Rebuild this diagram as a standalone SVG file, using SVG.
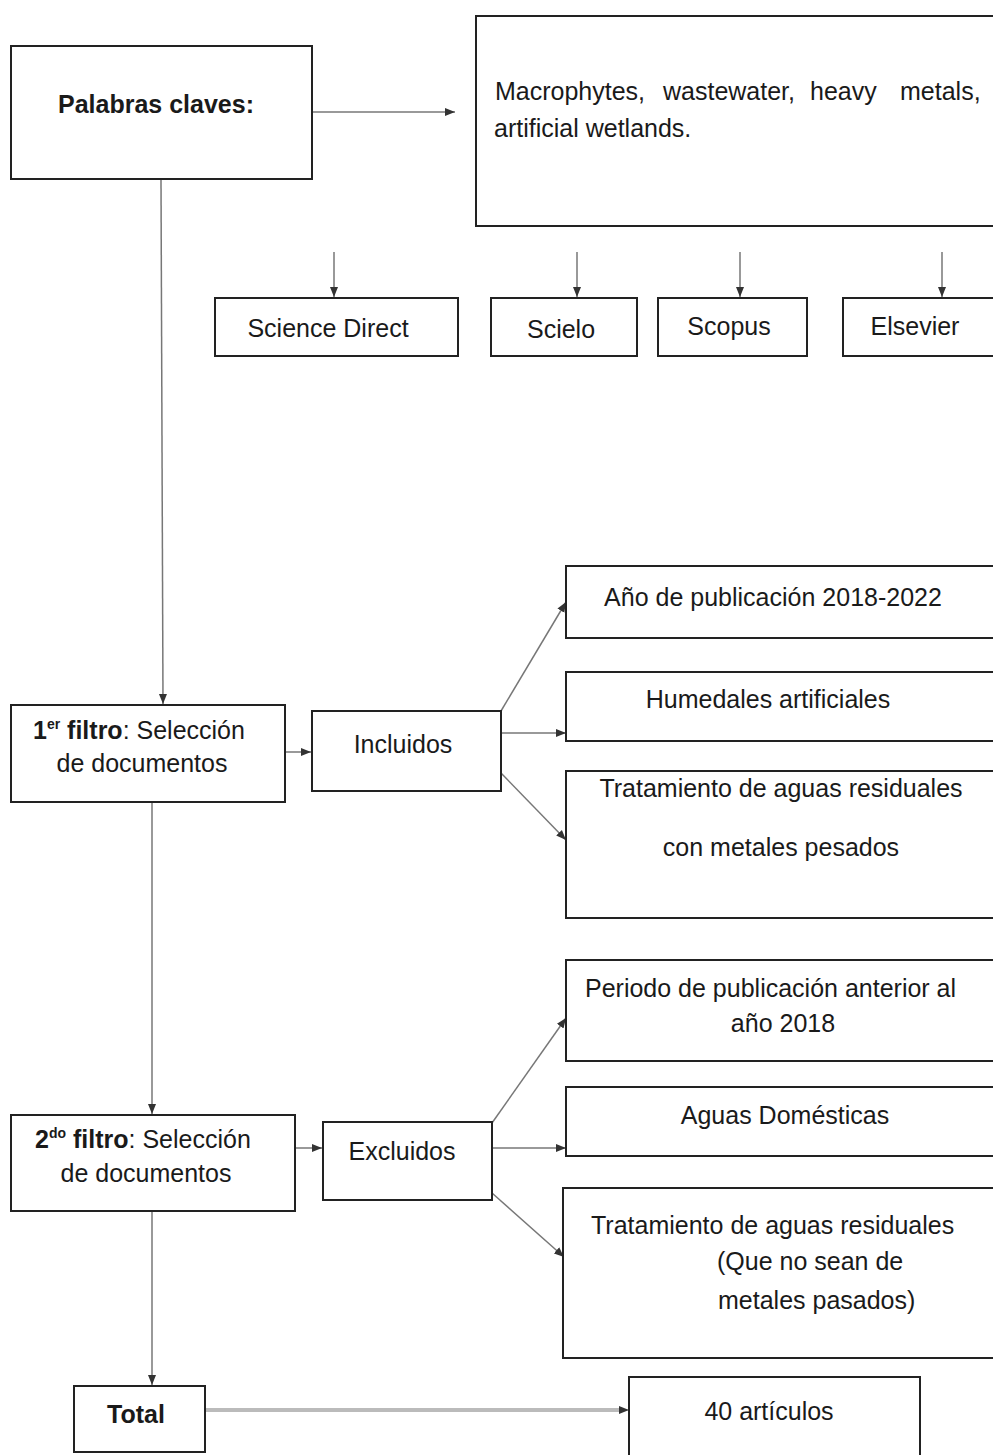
<svg xmlns="http://www.w3.org/2000/svg" width="993" height="1455" viewBox="0 0 993 1455">
<style>
.box{fill:#fff;stroke:#222;stroke-width:2}
.t{font-family:"Liberation Sans",Arial,sans-serif;font-size:25px;fill:#1a1a1a}
.c{text-anchor:middle}
.b{font-weight:bold}
.ln{fill:none;stroke:#777;stroke-width:1.5}
</style>
<defs>
<marker id="ah" viewBox="0 0 10 10" refX="10" refY="5" markerWidth="10" markerHeight="10" markerUnits="userSpaceOnUse" orient="auto">
<path d="M0,1 L10,5 L0,9 Z" fill="#333"/>
</marker>
</defs>
<rect width="993" height="1455" fill="#fff"/>
<g id="connectors">
<line class="ln" x1="312" y1="112" x2="455" y2="112" marker-end="url(#ah)"/>
<line class="ln" x1="334" y1="252" x2="334" y2="297" marker-end="url(#ah)"/>
<line class="ln" x1="577" y1="252" x2="577" y2="297" marker-end="url(#ah)"/>
<line class="ln" x1="740" y1="252" x2="740" y2="297" marker-end="url(#ah)"/>
<line class="ln" x1="942" y1="252" x2="942" y2="297" marker-end="url(#ah)"/>
<line class="ln" x1="161" y1="180" x2="163" y2="704" marker-end="url(#ah)"/>
<line class="ln" x1="285" y1="752" x2="311" y2="752" marker-end="url(#ah)"/>
<line class="ln" x1="501" y1="711" x2="566" y2="602" marker-end="url(#ah)"/>
<line class="ln" x1="501" y1="733" x2="566" y2="733" marker-end="url(#ah)"/>
<line class="ln" x1="501" y1="773" x2="566" y2="840" marker-end="url(#ah)"/>
<line class="ln" x1="152" y1="802" x2="152" y2="1114" marker-end="url(#ah)"/>
<line class="ln" x1="295" y1="1148" x2="322" y2="1148" marker-end="url(#ah)"/>
<line class="ln" x1="492" y1="1123" x2="566" y2="1018" marker-end="url(#ah)"/>
<line class="ln" x1="492" y1="1148" x2="566" y2="1148" marker-end="url(#ah)"/>
<line class="ln" x1="492" y1="1193" x2="564" y2="1257" marker-end="url(#ah)"/>
<line class="ln" x1="152" y1="1211" x2="152" y2="1385" marker-end="url(#ah)"/>
<line x1="206" y1="1410" x2="620" y2="1410" stroke="#bbb" stroke-width="4"/>
<line x1="618" y1="1410" x2="629" y2="1410" stroke="#bbb" stroke-width="1" marker-end="url(#ah)"/>
</g>
<g id="palabras">
<rect class="box" x="11" y="46" width="301" height="133"/>
<text class="t b c" x="156" y="113">Palabras claves:</text>
</g>
<g id="keywords">
<rect class="box" x="476" y="16" width="530" height="210"/>
<text class="t" y="100"><tspan x="495">Macrophytes,</tspan><tspan x="663">wastewater,</tspan><tspan x="810">heavy</tspan><tspan x="900">metals,</tspan></text>
<text class="t" x="494" y="137">artificial wetlands.</text>
</g>
<g id="sciencedirect">
<rect class="box" x="215" y="298" width="243" height="58"/>
<text class="t c" x="328" y="337">Science Direct</text>
</g>
<g id="scielo">
<rect class="box" x="491" y="298" width="146" height="58"/>
<text class="t c" x="561" y="338">Scielo</text>
</g>
<g id="scopus">
<rect class="box" x="658" y="298" width="149" height="58"/>
<text class="t c" x="729" y="335">Scopus</text>
</g>
<g id="elsevier">
<rect class="box" x="843" y="298" width="160" height="58"/>
<text class="t c" x="915" y="335">Elsevier</text>
</g>
<g id="filtro1">
<rect class="box" x="11" y="705" width="274" height="97"/>
<text class="t" x="33" y="739"><tspan class="b">1</tspan><tspan class="b" font-size="14" dy="-10">er</tspan><tspan class="b" dy="10"> filtro</tspan><tspan>: Selección</tspan></text>
<text class="t c" x="142" y="772">de documentos</text>
</g>
<g id="incluidos">
<rect class="box" x="312" y="711" width="189" height="80"/>
<text class="t c" x="403" y="753">Incluidos</text>
</g>
<g id="anio">
<rect class="box" x="566" y="566" width="440" height="72"/>
<text class="t c" x="773" y="606">Año de publicación 2018-2022</text>
</g>
<g id="humedales">
<rect class="box" x="566" y="672" width="440" height="69"/>
<text class="t c" x="768" y="708">Humedales artificiales</text>
</g>
<g id="tratamiento1">
<rect class="box" x="566" y="771" width="440" height="147"/>
<text class="t c" x="781" y="797">Tratamiento de aguas residuales</text>
<text class="t c" x="781" y="856">con metales pesados</text>
</g>
<g id="filtro2">
<rect class="box" x="11" y="1115" width="284" height="96"/>
<text class="t" x="35" y="1148"><tspan class="b">2</tspan><tspan class="b" font-size="14" dy="-10">do</tspan><tspan class="b" dy="10"> filtro</tspan><tspan>: Selección</tspan></text>
<text class="t c" x="146" y="1182">de documentos</text>
</g>
<g id="excluidos">
<rect class="box" x="323" y="1122" width="169" height="78"/>
<text class="t c" x="402" y="1160">Excluidos</text>
</g>
<g id="periodo">
<rect class="box" x="566" y="960" width="440" height="101"/>
<text class="t" x="585" y="997">Periodo de publicación anterior al</text>
<text class="t c" x="783" y="1032">año 2018</text>
</g>
<g id="aguas">
<rect class="box" x="566" y="1087" width="440" height="69"/>
<text class="t c" x="785" y="1124">Aguas Domésticas</text>
</g>
<g id="tratamiento2">
<rect class="box" x="563" y="1188" width="443" height="170"/>
<text class="t" x="591" y="1234">Tratamiento de aguas residuales</text>
<text class="t" x="717" y="1270">(Que no sean de</text>
<text class="t" x="718" y="1309">metales pasados)</text>
</g>
<g id="total">
<rect class="box" x="74" y="1386" width="131" height="66"/>
<text class="t b c" x="136" y="1423">Total</text>
</g>
<g id="articulos">
<rect class="box" x="629" y="1377" width="291" height="90"/>
<text class="t c" x="769" y="1420">40 artículos</text>
</g>
</svg>
